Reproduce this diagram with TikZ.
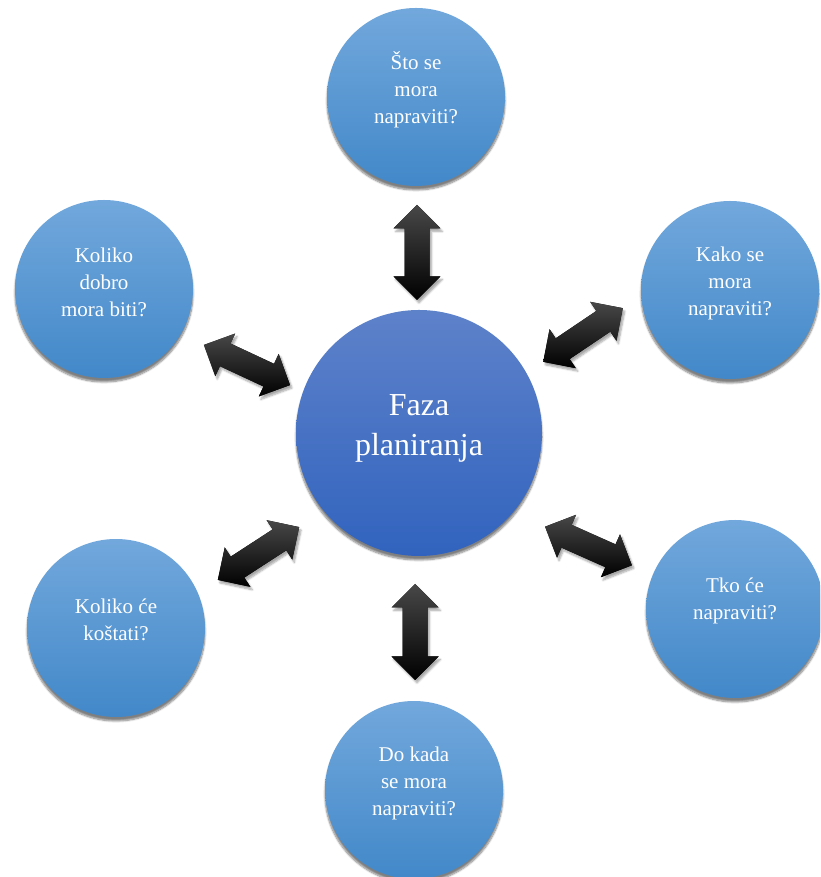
\documentclass[tikz,border=0pt]{standalone}
\usepackage{fontspec}
\setmainfont{Liberation Serif}
\usetikzlibrary{shadows.blur}
\definecolor{otop}{RGB}{114,168,220}
\definecolor{obot}{RGB}{66,136,201}
\definecolor{ctop}{RGB}{94,130,202}
\definecolor{cbot}{RGB}{49,99,190}
\definecolor{atop}{RGB}{72,72,72}
\newcommand\blockarr[4]{%
  \begin{scope}[shift={(#1,#2)},rotate=#3]
    \fill[arrowbody] (-#4,0) -- (-#4+23.5,23.5) -- (-#4+23.5,12.5) -- (#4-23.5,12.5)
      -- (#4-23.5,23.5) -- (#4,0) -- (#4-23.5,-23.5) -- (#4-23.5,-12.5)
      -- (-#4+23.5,-12.5) -- (-#4+23.5,-23.5) -- cycle;
  \end{scope}}
\begin{document}
\begin{tikzpicture}[x=1pt,y=1pt,
  outer/.style={circle, minimum size=178pt, inner sep=0pt, top color=otop, bottom color=obot,
    blur shadow={shadow xshift=0pt, shadow yshift=-4pt, shadow opacity=50, shadow blur steps=8}},
  centre/.style={circle, minimum size=246pt, inner sep=0pt, top color=ctop, bottom color=cbot,
    blur shadow={shadow xshift=0pt, shadow yshift=-4pt, shadow opacity=50, shadow blur steps=8}},
  qtext/.style={text=white, align=center, font=\fontsize{21}{27}\selectfont},
  ctext/.style={text=white, align=center, font=\fontsize{32}{40}\selectfont},
  arrowbody/.style={top color=atop, bottom color=black,
    blur shadow={shadow xshift=2pt, shadow yshift=-3pt, shadow opacity=35, shadow blur steps=6}}]
\useasboundingbox (0,0) rectangle (820,877);
\clip (0,0) rectangle (820,877);
% circles
\node[centre] (c) at (419,444) {};
\node[outer] (top) at (416,780) {};
\node[outer] (rt) at (730,587) {};
\node[outer] (lt) at (104,588) {};
\node[outer] (lb) at (116,249) {};
\node[outer] (rb) at (735,268) {};
\node[outer] (bot) at (414,87) {};
% texts
\node[ctext] (ct) at ([yshift=5]c.center) {Faza\\planiranja};
\node[qtext] (topt) at ([yshift=7]top.center) {Što se\\mora\\napraviti?};
\node[qtext] (rtt) at ([yshift=7]rt.center) {Kako se\\mora\\napraviti?};
\node[qtext] (ltt) at ([yshift=7]lt.center) {Koliko\\dobro\\mora biti?};
\node[qtext] (lbt) at ([yshift=8]lb.center) {Koliko će\\koštati?};
\node[qtext] (rbt) at ([yshift=8]rb.center) {Tko će\\napraviti?};
\node[qtext] (bott) at ([yshift=7]bot.center) {Do kada\\se mora\\napraviti?};
% block arrows
\blockarr{417}{624.5}{90}{47.5}
\blockarr{415}{245}{90}{48}
\blockarr{583}{542}{34}{48}
\blockarr{247}{512}{-25}{47.5}
\blockarr{258.5}{323.5}{33}{48.5}
\blockarr{588.5}{331}{-24}{47.5}
\end{tikzpicture}
\end{document}
